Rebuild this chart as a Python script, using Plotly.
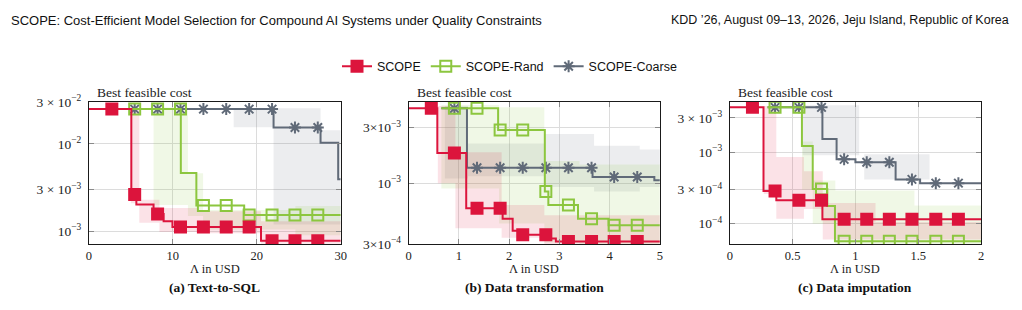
import math
import plotly.graph_objects as go

# ---------------- data ----------------
XMAX = [30, 5, 2]
X_TICKS_A = [0, 10, 20, 30]
X_TICKS_B = [0, 1, 2, 3, 4, 5]
X_TICKS_C = [0, 0.5, 1, 1.5, 2]
X_TICKTEXT_C = ["0", "0.5", "1", "1.5", "2"]

Y_RANGE_A = [7.15e-4, 3.02e-2]
Y_RANGE_B = [3.0e-4, 5.0e-3]
Y_RANGE_C = [5.2e-5, 5.0e-3]
Y_TICKS_A = [3e-2, 1e-2, 3e-3, 1e-3]
Y_TICKTEXT_A = ["3 × 10<sup>−2</sup>", "10<sup>−2</sup>", "3 × 10<sup>−3</sup>", "10<sup>−3</sup>"]
Y_TICKS_B = [3e-3, 1e-3, 3e-4]
Y_TICKTEXT_B = ["3×10<sup>−3</sup>", "10<sup>−3</sup>", "3×10<sup>−4</sup>"]
Y_TICKS_C = [3e-3, 1e-3, 3e-4, 1e-4]
Y_TICKTEXT_C = ["3 × 10<sup>−3</sup>", "10<sup>−3</sup>", "3 × 10<sup>−4</sup>", "10<sup>−4</sup>"]

MARK_A = [2.73, 5.45, 8.18, 10.91, 13.64, 16.36, 19.09, 21.82, 24.55, 27.27]
MARK_B = [0.45, 0.91, 1.36, 1.82, 2.27, 2.73, 3.18, 3.64, 4.09, 4.55]
MARK_C = [0.18, 0.36, 0.55, 0.73, 0.91, 1.09, 1.27, 1.45, 1.64, 1.82]

# (a) Text-to-SQL
A_SCOPE_X = [0, 5.05, 5.65, 7.7, 8.9, 9.95, 20.5, 30]
A_SCOPE_Y = [0.025, 2.63e-3, 2.02e-3, 1.58e-3, 1.30e-3, 1.12e-3, 7.8e-4, 7.8e-4]
A_RAND_X = [5.0, 10.95, 12.8, 18.5, 30]
A_RAND_Y = [0.025, 4.63e-3, 1.97e-3, 1.54e-3, 1.54e-3]
A_COARSE_X = [5.0, 22.0, 27.6, 29.7, 30]
A_COARSE_Y = [0.025, 0.0154, 0.0103, 3.93e-3, 3.93e-3]
A_SCOPE_BAND = [(5.0, 6.0, 2.1e-3, 0.026), (6.0, 8.4, 1.25e-3, 2.3e-3), (8.4, 13.0, 9.8e-4, 1.85e-3),
                (13.0, 20.5, 9.5e-4, 1.7e-3), (20.5, 30, 7.2e-4, 1.3e-3)]
A_RAND_BAND = [(7.7, 11.8, 2.0e-3, 0.026), (11.8, 13.6, 1.5e-3, 4.6e-3), (13.6, 24.6, 1.05e-3, 1.75e-3),
               (24.6, 30, 9e-4, 1.95e-3)]
A_COARSE_BAND = [(17.25, 22.0, 0.0155, 0.0255), (22.0, 27.6, 1.2e-3, 0.0255), (27.6, 30, 1.2e-3, 0.0143)]

# (b) Data transformation
B_SCOPE_X = [0, 0.57, 1.145, 1.87, 2.07, 2.2, 2.76, 2.93, 5]
B_SCOPE_Y = [4.4e-3, 1.82e-3, 6.1e-4, 4.95e-4, 3.9e-4, 3.6e-4, 3.35e-4, 3.15e-4, 3.15e-4]
B_RAND_X = [0.65, 1.78, 2.71, 2.78, 3.37, 3.98, 5]
B_RAND_Y = [4.4e-3, 2.87e-3, 8.5e-4, 6.5e-4, 4.95e-4, 4.35e-4, 4.35e-4]
B_COARSE_X = [0.65, 1.16, 3.66, 4.89, 5]
B_COARSE_Y = [4.4e-3, 1.36e-3, 1.13e-3, 1.06e-3, 1.06e-3]
B_SCOPE_BAND = [(0.58, 0.93, 1.0e-3, 4.6e-3), (0.93, 1.85, 4.1e-4, 1.85e-3), (1.85, 2.7, 3.4e-4, 6.5e-4),
                (2.7, 5.0, 3.0e-4, 5.3e-4)]
B_RAND_BAND = [(0.65, 1.8, 9e-4, 4.7e-3), (1.8, 2.7, 4.5e-4, 4.5e-3), (2.7, 3.4, 3.1e-4, 1.55e-3),
               (3.4, 5.0, 3.0e-4, 1.45e-3)]
B_COARSE_BAND = [(0.72, 1.18, 1.1e-3, 4.6e-3), (1.18, 2.7, 1.15e-3, 2.2e-3), (2.7, 3.69, 9.3e-4, 2.65e-3),
                 (3.69, 4.6, 8.5e-4, 2.1e-3), (4.6, 5.0, 9.3e-4, 1.95e-3)]

# (c) Data imputation
C_SCOPE_X = [0, 0.268, 0.37, 0.737, 2]
C_SCOPE_Y = [4.2e-3, 2.85e-4, 2.12e-4, 1.15e-4, 1.15e-4]
C_RAND_X = [0.3, 0.574, 0.66, 0.776, 0.837, 2]
C_RAND_Y = [4.2e-3, 1.21e-3, 3.05e-4, 1.76e-4, 5.7e-5, 5.7e-5]
C_COARSE_X = [0.3, 0.737, 0.85, 1.0, 1.32, 1.515, 2]
C_COARSE_Y = [4.2e-3, 1.52e-3, 7.9e-4, 7.2e-4, 4.15e-4, 3.68e-4, 3.68e-4]
C_SCOPE_BAND = [(0.27, 0.37, 2.6e-4, 4.4e-3), (0.37, 0.59, 1.17e-4, 8.5e-4), (0.59, 0.74, 1.6e-4, 5.4e-4),
                (0.74, 1.16, 6e-5, 1.95e-4), (1.16, 2.0, 6e-5, 1.06e-4)]
C_RAND_BAND = [(0.575, 0.66, 3.0e-4, 1.4e-3), (0.66, 0.84, 1.0e-4, 4.0e-4), (0.84, 1.47, 5.2e-5, 2.9e-4),
               (1.47, 2.0, 5.2e-5, 1.8e-4)]
C_COARSE_BAND = [(0.58, 1.03, 9e-4, 4.5e-3), (1.07, 1.59, 4.15e-4, 9.3e-4)]

SERIES_NAMES = ["SCOPE", "SCOPE-Rand", "SCOPE-Coarse"]
SUBCAPTIONS = ["(a) Text-to-SQL", "(b) Data transformation", "(c) Data imputation"]

# ---------------- style ----------------
W, H = 1022, 310
RED = "#DC143C"
GREEN = "#8CC63F"
GRAY = "#606A78"
FILLS = {"SCOPE": "rgba(220,20,60,0.12)", "SCOPE-Rand": "rgba(140,198,63,0.13)",
         "SCOPE-Coarse": "rgba(96,106,120,0.12)"}
COLORS = {"SCOPE": RED, "SCOPE-Rand": GREEN, "SCOPE-Coarse": GRAY}
SERIF = "Liberation Serif"
SANS = "Liberation Sans"

PLOT_LEFT = [86.7, 409.3, 733.3]
PLOT_RIGHT = [340.7, 662.7, 986.7]
PLOT_TOP, PLOT_BOTTOM = 98.3, 248.7


def marker_style(name):
    if name == "SCOPE":
        return dict(symbol="square", size=13, color=RED, line=dict(width=0))
    if name == "SCOPE-Rand":
        return dict(symbol="square-open", size=11, color=GREEN, line=dict(width=2, color=GREEN))
    return dict(symbol="asterisk-open", size=10, color=GRAY, line=dict(width=2, color=GRAY))


def band_path(rects):
    xs, ys = [], []
    groups, cur = [], []
    for r in rects:
        if cur and abs(cur[-1][1] - r[0]) > 1e-9:
            groups.append(cur)
            cur = []
        cur.append(r)
    if cur:
        groups.append(cur)
    for g in groups:
        px, py = [], []
        for x0, x1, lo, hi in g:
            px += [x0, x1]
            py += [hi, hi]
        for x0, x1, lo, hi in reversed(g):
            px += [x1, x0]
            py += [lo, lo]
        px.append(px[0])
        py.append(py[0])
        if xs:
            xs.append(None)
            ys.append(None)
        xs += px
        ys += py
    return xs, ys


def step_value(sx, sy, x):
    val = None
    for xi, yi in zip(sx, sy):
        if xi <= x + 1e-9:
            val = yi
    return val


panels = [
    dict(series={"SCOPE": (A_SCOPE_X, A_SCOPE_Y, A_SCOPE_BAND),
                 "SCOPE-Rand": (A_RAND_X, A_RAND_Y, A_RAND_BAND),
                 "SCOPE-Coarse": (A_COARSE_X, A_COARSE_Y, A_COARSE_BAND)},
         marks=MARK_A, xticks=X_TICKS_A, xtext=[str(v) for v in X_TICKS_A],
         yrange=Y_RANGE_A, yticks=Y_TICKS_A, ytext=Y_TICKTEXT_A),
    dict(series={"SCOPE": (B_SCOPE_X, B_SCOPE_Y, B_SCOPE_BAND),
                 "SCOPE-Rand": (B_RAND_X, B_RAND_Y, B_RAND_BAND),
                 "SCOPE-Coarse": (B_COARSE_X, B_COARSE_Y, B_COARSE_BAND)},
         marks=MARK_B, xticks=X_TICKS_B, xtext=[str(v) for v in X_TICKS_B],
         yrange=Y_RANGE_B, yticks=Y_TICKS_B, ytext=Y_TICKTEXT_B),
    dict(series={"SCOPE": (C_SCOPE_X, C_SCOPE_Y, C_SCOPE_BAND),
                 "SCOPE-Rand": (C_RAND_X, C_RAND_Y, C_RAND_BAND),
                 "SCOPE-Coarse": (C_COARSE_X, C_COARSE_Y, C_COARSE_BAND)},
         marks=MARK_C, xticks=X_TICKS_C, xtext=X_TICKTEXT_C,
         yrange=Y_RANGE_C, yticks=Y_TICKS_C, ytext=Y_TICKTEXT_C),
]

fig = go.Figure()
layout = {}
annotations = []

for i, p in enumerate(panels):
    xa = "x" if i == 0 else f"x{i+1}"
    ya = "y" if i == 0 else f"y{i+1}"
    # bands
    for name in ["SCOPE-Coarse", "SCOPE-Rand", "SCOPE"]:
        bx, by = band_path(p["series"][name][2])
        fig.add_trace(go.Scatter(x=bx, y=by, mode="lines", fill="toself", fillcolor=FILLS[name],
                                 line=dict(width=0), hoverinfo="skip", showlegend=False,
                                 xaxis=xa, yaxis=ya))
    # lines + markers
    for name in ["SCOPE-Coarse", "SCOPE-Rand", "SCOPE"]:
        sx, sy, _ = p["series"][name]
        fig.add_trace(go.Scatter(x=sx, y=sy, mode="lines", line=dict(color=COLORS[name], width=2, shape="hv"),
                                 showlegend=False, xaxis=xa, yaxis=ya))
        mx = [m for m in p["marks"] if m >= sx[0]]
        my = [step_value(sx, sy, m) for m in mx]
        fig.add_trace(go.Scatter(x=mx, y=my, mode="markers", marker=marker_style(name),
                                 showlegend=False, xaxis=xa, yaxis=ya))

    x0 = PLOT_LEFT[i] / W
    x1 = PLOT_RIGHT[i] / W
    axis_common = dict(showline=True, linecolor="#1a1a1a", linewidth=1, mirror="ticks",
                       ticks="inside", ticklen=5, tickcolor="#8a8a8a", tickwidth=1,
                       showgrid=True, gridcolor="#dcdcdc", gridwidth=1, zeroline=False)
    layout["xaxis" if i == 0 else f"xaxis{i+1}"] = dict(
        domain=[x0, x1], anchor=ya, range=[0, XMAX[i]], tickmode="array",
        tickvals=p["xticks"], ticktext=p["xtext"],
        tickfont=dict(family=SERIF, size=12.5, color="#222"), **axis_common)
    layout["yaxis" if i == 0 else f"yaxis{i+1}"] = dict(
        domain=[1 - PLOT_BOTTOM / H, 1 - PLOT_TOP / H], anchor=xa, type="log",
        range=[math.log10(p["yrange"][0]), math.log10(p["yrange"][1])], tickmode="array",
        tickvals=p["yticks"], ticktext=p["ytext"], ticklabelstandoff=4,
        tickfont=dict(family=SERIF, size=13.5, color="#222"), **axis_common)

    cx = (PLOT_LEFT[i] + PLOT_RIGHT[i]) / 2 / W
    annotations.append(dict(text="Best feasible cost", x=(PLOT_LEFT[i] + 6) / W, y=1 - 88 / H,
                            xref="paper", yref="paper", xanchor="left", yanchor="middle", showarrow=False,
                            font=dict(family=SERIF, size=13.5, color="#222")))
    annotations.append(dict(text="Λ in USD", x=cx, y=1 - 275 / H, xref="paper", yref="paper",
                            xanchor="center", yanchor="middle", showarrow=False,
                            font=dict(family=SERIF, size=12.5, color="#222")))
    annotations.append(dict(text="<b>" + SUBCAPTIONS[i] + "</b>", x=cx, y=1 - 295 / H, xref="paper",
                            yref="paper", xanchor="center", yanchor="middle", showarrow=False,
                            font=dict(family=SERIF, size=13.5, color="#111")))

# legend dummies
for name in SERIES_NAMES:
    fig.add_trace(go.Scatter(x=[None], y=[None], mode="lines+markers", name=name,
                             line=dict(color=COLORS[name], width=2), marker=marker_style(name),
                             showlegend=True))

annotations.append(dict(text="SCOPE: Cost-Efficient Model Selection for Compound AI Systems under Quality Constraints",
                        x=6 / W, y=1 - 12 / H, xref="paper", yref="paper", xanchor="left", yanchor="middle",
                        showarrow=False, font=dict(family=SANS, size=13, color="#111")))
annotations.append(dict(text="KDD ’26, August 09–13, 2026, Jeju Island, Republic of Korea",
                        x=1017 / W, y=1 - 12 / H, xref="paper", yref="paper", xanchor="right", yanchor="middle",
                        showarrow=False, font=dict(family=SANS, size=12.5, color="#111")))

fig.update_layout(
    width=W, height=H, margin=dict(l=0, r=0, t=0, b=0),
    paper_bgcolor="white", plot_bgcolor="white",
    showlegend=True,
    legend=dict(orientation="h", x=0.5, xanchor="center", y=1 - 61 / H, yanchor="middle",
                font=dict(family=SANS, size=12.5, color="#111"), bgcolor="rgba(0,0,0,0)",
                itemwidth=30, tracegroupgap=0),
    annotations=annotations,
    **layout,
)

fig.write_html("out.html")
